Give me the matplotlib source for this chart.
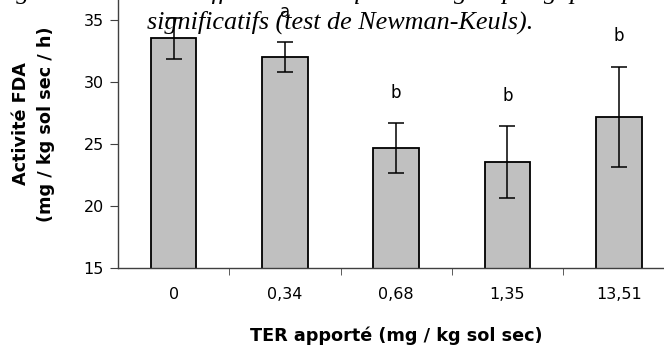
import matplotlib
matplotlib.use('Agg')
import matplotlib.pyplot as plt
import numpy as np

# FDA activity per TER dose
doses = ['0', '0,34', '0,68', '1,35', '13,51']
fda_mean = [33.55, 32.0, 24.7, 23.55, 27.2]
fda_err = [1.65, 1.2, 2.0, 2.9, 4.05]
groups = ['a', 'a', 'b', 'b', 'b']

plt.rcParams['font.family'] = 'DejaVu Sans'

fig = plt.figure(figsize=(6.64, 3.47), dpi=100)
ax = fig.add_axes([0.1777, 0.2277, 0.838, 0.893])

x = np.arange(len(doses))
ax.bar(x, fda_mean, width=0.41, color='#c0c0c0', edgecolor='black', linewidth=1.3,
       yerr=fda_err, capsize=5.5, error_kw={'elinewidth': 1.1, 'capthick': 1.1}, zorder=2)
for xi, m, e, g in zip(x, fda_mean, fda_err, groups):
    ax.text(xi, m + e + 2.45, g, ha='center', va='center', fontsize=12)

ax.set_xlim(-0.5, 4.5)
ax.set_ylim(15, 40)
ax.set_yticks([15, 20, 25, 30, 35])
ax.set_xticks(x)
ax.set_xticklabels(doses)
ax.set_xticks(x[:-1] + 0.5, minor=True)
ax.tick_params(axis='x', which='major', length=0, pad=14, labelsize=11.5)
ax.tick_params(axis='x', which='minor', length=5, direction='out', color='#404040')
ax.tick_params(axis='y', length=6, direction='out', labelsize=11.5, pad=4, color='#404040')
for s in ['top', 'right']:
    ax.spines[s].set_visible(False)
for s in ['left', 'bottom']:
    ax.spines[s].set_color('#404040')
    ax.spines[s].set_linewidth(1.0)

ax.set_xlabel('TER apporté (mg / kg sol sec)', fontsize=12.7, fontweight='bold', labelpad=17)
fig.text(0.05, 0.643, 'Activité FDA\n(mg / kg sol sec / h)', rotation=90, ha='center', va='center',
         fontsize=12.7, fontweight='bold', linespacing=1.5)

# caption of the source figure, cut off by the crop
fig.text(-0.01, 1.004, 'Figure : les lettres différentes indiquent des groupes gap',
         family='Liberation Serif', style='italic', fontsize=18.8, va='baseline')
fig.text(0.221, 0.918, 'significatifs (test de Newman-Keuls).',
         family='Liberation Serif', style='italic', fontsize=18.8, va='baseline')

fig.savefig('out.png', dpi=100)
